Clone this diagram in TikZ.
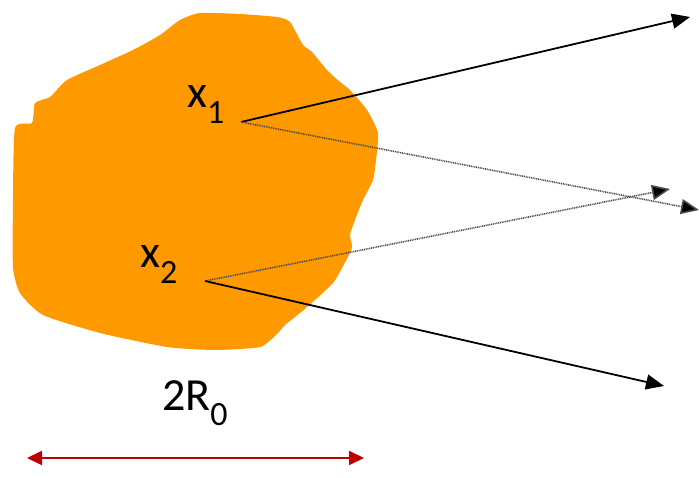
\documentclass[tikz,border=0pt]{standalone}
\usepackage{fontspec}
\setmainfont{Carlito}
\usetikzlibrary{arrows.meta}
\definecolor{blob}{RGB}{255,153,0}
\definecolor{dimred}{RGB}{192,0,0}
\tikzset{
  lbl/.style={inner sep=0pt, font=\fontsize{46}{46}\selectfont},
  ray/.style={line width=1.8pt, -{Triangle[length=18pt,width=15pt]}},
  faint/.style={line width=1.6pt, draw=gray!60!black, dash pattern=on 1pt off 0.8pt, -{Triangle[length=18pt,width=15pt,fill=black]}},
  dim/.style={line width=1.8pt, draw=dimred, {Triangle[length=15pt,width=14pt]}-{Triangle[length=15pt,width=14pt]}}
}
\newcommand{\subx}[1]{\raisebox{-0.34em}{\fontsize{34}{34}\selectfont #1}}
\begin{document}
\begin{tikzpicture}[x=1pt,y=-1pt]
\useasboundingbox (0,0) rectangle (699,478);
% blob
\fill[blob] plot[smooth cycle, tension=0.35] coordinates {
 (200,13) (240,14) (277,17) (290,22) (303,45) (312,52) (327,70) (340,82) (350,90) (367,110) (378,133)
 (376,160) (373,180) (363,200) (355,220) (350,235) (352,248) (342,268) (333,283) (315,300) (300,313)
 (285,325) (277,334) (260,347) (215,350) (167,347) (100,333) (43,315) (20,293) (13,267) (13,200) (15,128)
 (32,123) (35,103) (50,97) (67,80) (100,65) (133,50) (160,35) (180,20)};
% points
\coordinate (p1) at (241,122);
\coordinate (p2) at (205,281);
\coordinate (e1) at (690,17);
\coordinate (e2) at (699,210);
\coordinate (e3) at (670,189);
\coordinate (e4) at (664,386);
\coordinate (d1) at (27,458);
\coordinate (d2) at (364,458);
% labels
\node[lbl, anchor=base west] (lx1) at (187,108) {x\subx{1}};
\node[lbl, anchor=base west] (lx2) at (140,268) {x\subx{2}};
\node[lbl, anchor=base west] (lr) at (162,410) {2R\subx{0}};
% rays
\draw[ray] (p1) -- (e1);
\draw[faint] (p1) -- (e2);
\draw[faint] (p2) -- (e3);
\draw[ray] (p2) -- (e4);
\draw[dim] (d1) -- (d2);
\end{tikzpicture}
\end{document}
